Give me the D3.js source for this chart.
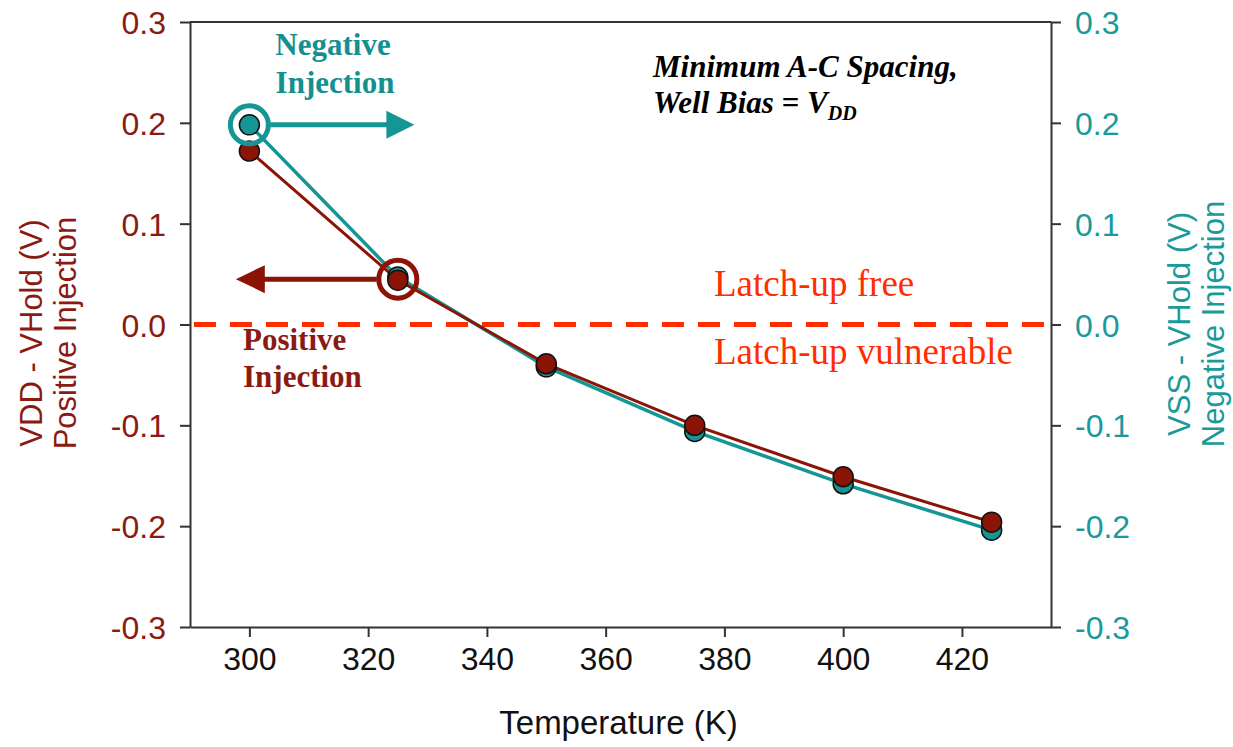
<!DOCTYPE html>
<html>
<head>
<meta charset="utf-8">
<script src="https://cdn.jsdelivr.net/npm/d3@7"></script>
<style>
  body { margin: 0; background: #fff; }
  text { font-family: "Liberation Sans", Arial, sans-serif; }
  .serif { font-family: "Liberation Serif", "Times New Roman", serif; }
</style>
</head>
<body>
<div id="canvas"><svg width="1233" height="747"></svg></div>
<script>
// temperatures (K)
var temps = [300, 325, 350, 375, 400, 425];
// VDD - VHold, positive injection
var posInj = [0.172, 0.044, -0.039, -0.100, -0.151, -0.196];
// VSS - VHold, negative injection
var negInj = [0.198, 0.047, -0.042, -0.106, -0.158, -0.204];
var xTicks = [300, 320, 340, 360, 380, 400, 420];
var yTicks = [-0.3, -0.2, -0.1, 0, 0.1, 0.2, 0.3];

var red = "#8b1406", teal = "#169595", redText = "#8b1a12", tealText = "#1a9a9a", latch = "#ff2d00";

var svg = d3.select("#canvas svg");
var x = d3.scaleLinear().domain([290, 435]).range([190, 1051]);
var y = d3.scaleLinear().domain([-0.3, 0.3]).range([627, 22]);
var fmt = function (d) { return d.toFixed(1); };

// axes
var xAxis = svg.append("g").attr("transform", "translate(0,627)")
  .call(d3.axisBottom(x).tickValues(xTicks).tickSize(10).tickPadding(10).tickSizeOuter(0));
var yLeft = svg.append("g").attr("transform", "translate(190,0)")
  .call(d3.axisLeft(y).tickValues(yTicks).tickFormat(fmt).tickSize(10).tickPadding(14).tickSizeOuter(0));
var yRight = svg.append("g").attr("transform", "translate(1051,0)")
  .call(d3.axisRight(y).tickValues(yTicks).tickFormat(fmt).tickSize(10).tickPadding(14).tickSizeOuter(0));

// top frame line
svg.append("line").attr("x1", x.range()[0]).attr("x2", x.range()[1])
  .attr("y1", y(0.3)).attr("y2", y(0.3)).attr("stroke", "#333").attr("stroke-width", 2);

svg.selectAll(".domain, .tick line").attr("stroke", "#333").attr("stroke-width", 2);
svg.selectAll(".tick text").style("font-size", "32px").style("font-family", "Liberation Sans, Arial, sans-serif");
xAxis.selectAll(".tick text").attr("fill", "#111");
yLeft.selectAll(".tick text").attr("fill", redText).attr("dy", "0.36em");
yRight.selectAll(".tick text").attr("fill", tealText).attr("dy", "0.36em");

// axis titles
svg.append("text").attr("x", (x.range()[0] + x.range()[1]) / 2 - 2).attr("y", 734)
  .attr("text-anchor", "middle").style("font-size", "33px").attr("fill", "#111").text("Temperature (K)");

var lt = svg.append("text").attr("transform", "translate(42,333) rotate(-90)")
  .attr("text-anchor", "middle").style("font-size", "31px").attr("fill", redText);
lt.append("tspan").attr("x", 0).attr("dy", 0).text("VDD - VHold (V)");
lt.append("tspan").attr("x", 0).attr("dy", 34).text("Positive Injection");

var rt = svg.append("text").attr("transform", "translate(1190,324) rotate(-90)")
  .attr("text-anchor", "middle").style("font-size", "31px").attr("fill", tealText);
rt.append("tspan").attr("x", 0).attr("dy", 0).text("VSS - VHold (V)");
rt.append("tspan").attr("x", 0).attr("dy", 34).text("Negative Injection");

// zero line
svg.append("line").attr("x1", x.range()[0] + 4).attr("x2", x.range()[1])
  .attr("y1", y(0)).attr("y2", y(0))
  .attr("stroke", latch).attr("stroke-width", 5).attr("stroke-dasharray", "22,14");

svg.append("text").attr("class", "serif").attr("x", 714).attr("y", y(0) - 29)
  .style("font-size", "37px").attr("fill", latch).text("Latch-up free");
svg.append("text").attr("class", "serif").attr("x", 714).attr("y", y(0) + 39)
  .style("font-size", "37px").attr("fill", latch).text("Latch-up vulnerable");

// series
var line = d3.line().x(function (d) { return x(d[0]); }).y(function (d) { return y(d[1]); });
var negData = d3.zip(temps, negInj), posData = d3.zip(temps, posInj);

svg.append("path").datum(negData).attr("d", line).attr("fill", "none")
  .attr("stroke", teal).attr("stroke-width", 3.5);
svg.append("path").datum(posData).attr("d", line).attr("fill", "none")
  .attr("stroke", red).attr("stroke-width", 3);

svg.selectAll(".negpt").data(negData).enter().append("circle").attr("class", "negpt")
  .attr("cx", function (d) { return x(d[0]); }).attr("cy", function (d) { return y(d[1]); })
  .attr("r", 10).attr("fill", teal).attr("stroke", "#111").attr("stroke-width", 1.5);
svg.selectAll(".pospt").data(posData).enter().append("circle").attr("class", "pospt")
  .attr("cx", function (d) { return x(d[0]); }).attr("cy", function (d) { return y(d[1]); })
  .attr("r", 10).attr("fill", red).attr("stroke", "#111").attr("stroke-width", 1.5);

// highlight rings + arrows
var nx = x(temps[0]), ny = y(negInj[0]);
svg.append("circle").attr("cx", nx).attr("cy", ny).attr("r", 19)
  .attr("fill", "none").attr("stroke", teal).attr("stroke-width", 5);
svg.append("line").attr("x1", nx + 21).attr("x2", nx + 138).attr("y1", ny).attr("y2", ny)
  .attr("stroke", teal).attr("stroke-width", 5);
svg.append("path").attr("d", d3.line()([[nx + 137, ny - 14], [nx + 165, ny], [nx + 137, ny + 14]]))
  .attr("fill", teal);

var px = x(temps[1]), py = y(posInj[1]) - 1;
svg.append("circle").attr("cx", px).attr("cy", py).attr("r", 19)
  .attr("fill", "none").attr("stroke", red).attr("stroke-width", 5);
svg.append("line").attr("x1", px - 21).attr("x2", px - 134).attr("y1", py).attr("y2", py)
  .attr("stroke", red).attr("stroke-width", 5);
svg.append("path").attr("d", d3.line()([[px - 133, py - 14], [px - 162, py], [px - 133, py + 14]]))
  .attr("fill", red);

// annotation texts
var neg = svg.append("text").attr("class", "serif").attr("text-anchor", "middle")
  .style("font-size", "31px").style("font-weight", "bold").attr("fill", "#149090");
neg.append("tspan").attr("x", 333).attr("y", 55).text("Negative");
neg.append("tspan").attr("x", 335).attr("y", 93).text("Injection");

var pos = svg.append("text").attr("class", "serif")
  .style("font-size", "31px").style("font-weight", "bold").attr("fill", redText);
pos.append("tspan").attr("x", 243).attr("y", 350).text("Positive");
pos.append("tspan").attr("x", 243).attr("y", 387).text("Injection");

var cond = svg.append("text").attr("class", "serif")
  .style("font-size", "31px").style("font-weight", "bold").style("font-style", "italic").attr("fill", "#000");
cond.append("tspan").attr("x", 653).attr("y", 77).text("Minimum A-C Spacing,");
var l2 = svg.append("text").attr("class", "serif").attr("x", 653).attr("y", 113)
  .style("font-size", "31px").style("font-weight", "bold").style("font-style", "italic").attr("fill", "#000");
l2.append("tspan").text("Well Bias = V");
l2.append("tspan").attr("dy", 7).style("font-size", "20px").text("DD");
</script>
</body>
</html>
